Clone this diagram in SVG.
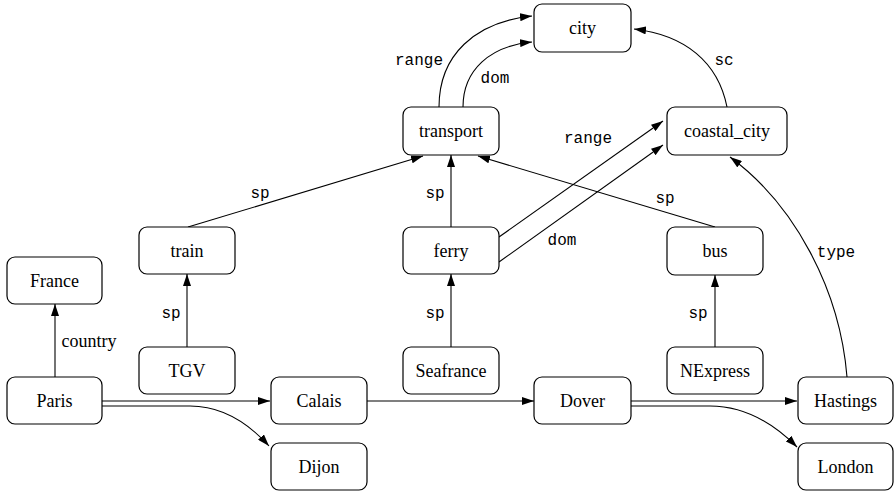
<svg xmlns="http://www.w3.org/2000/svg" width="895" height="492" viewBox="0 0 895 492">
<style>
.n rect{fill:#fff;stroke:#000;stroke-width:1.2}
.n text{font-family:"Liberation Serif",serif;font-size:18px;text-anchor:middle;fill:#000}
.e path{fill:none;stroke:#000;stroke-width:1.1}
.l{font-family:"Liberation Mono",monospace;font-size:16px;text-anchor:middle;fill:#000}
.s{font-family:"Liberation Serif",serif;font-size:18px;text-anchor:middle;fill:#000}
</style>
<defs>
<marker id="a" viewBox="0 0 12 8" refX="12" refY="4" markerWidth="12" markerHeight="8" markerUnits="userSpaceOnUse" orient="auto">
<path d="M0,0 L12,4 L0,8 z" fill="#000"/>
</marker>
</defs>
<g class="e" id="edges">
<path d="M55,377 V304" marker-end="url(#a)"/>
<path d="M102,401 H270" marker-end="url(#a)"/>
<path d="M102,406 H190 C225,406 250,425 269,446" marker-end="url(#a)"/>
<path d="M367,401 H534" marker-end="url(#a)"/>
<path d="M631,401 H797" marker-end="url(#a)"/>
<path d="M631,406 H710 C745,406 775,425 797,447" marker-end="url(#a)"/>
<path d="M187,347 V274" marker-end="url(#a)"/>
<path d="M188,227 L423,156" marker-end="url(#a)"/>
<path d="M451,227 V155" marker-end="url(#a)"/>
<path d="M715,227 L478,156" marker-end="url(#a)"/>
<path d="M451,347 V274" marker-end="url(#a)"/>
<path d="M715,347 V275" marker-end="url(#a)"/>
<path d="M499,237 L663,121" marker-end="url(#a)"/>
<path d="M499,262 L663,145" marker-end="url(#a)"/>
<path d="M439,107 C439,55 475,22 532,16" marker-end="url(#a)"/>
<path d="M463,107 C463,70 490,46 532,42" marker-end="url(#a)"/>
<path d="M727,107 C718,62 685,35 634,29" marker-end="url(#a)"/>
<path d="M847,377 C840,290 795,205 730,157" marker-end="url(#a)"/>
</g>
<g id="labels">
<text class="l" x="419" y="65">range</text>
<text class="l" x="495" y="83">dom</text>
<text class="l" x="588" y="143">range</text>
<text class="l" x="562" y="245">dom</text>
<text class="l" x="260" y="198">sp</text>
<text class="l" x="435" y="198">sp</text>
<text class="l" x="665" y="203">sp</text>
<text class="l" x="171" y="318">sp</text>
<text class="l" x="435" y="318">sp</text>
<text class="l" x="698" y="318">sp</text>
<text class="l" x="724" y="65">sc</text>
<text class="l" x="836" y="257">type</text>
<text class="s" x="89" y="347">country</text>
</g>
<g class="n" id="city"><rect x="534" y="4" width="97" height="48" rx="8"/><text x="582.5" y="34">city</text></g>
<g class="n" id="transport"><rect x="403" y="107" width="96" height="48" rx="8"/><text x="451" y="137">transport</text></g>
<g class="n" id="coastal_city"><rect x="667" y="107" width="120" height="48" rx="8"/><text x="727" y="137">coastal_city</text></g>
<g class="n" id="train"><rect x="139" y="227" width="96" height="47" rx="8"/><text x="187" y="257">train</text></g>
<g class="n" id="ferry"><rect x="403" y="227" width="96" height="47" rx="8"/><text x="451" y="257">ferry</text></g>
<g class="n" id="bus"><rect x="667" y="227" width="96" height="48" rx="8"/><text x="715" y="257">bus</text></g>
<g class="n" id="France"><rect x="7" y="257" width="95" height="47" rx="8"/><text x="54.5" y="287">France</text></g>
<g class="n" id="TGV"><rect x="139" y="347" width="96" height="47" rx="8"/><text x="187" y="377">TGV</text></g>
<g class="n" id="Seafrance"><rect x="403" y="347" width="96" height="47" rx="8"/><text x="451" y="377">Seafrance</text></g>
<g class="n" id="NExpress"><rect x="667" y="347" width="96" height="47" rx="8"/><text x="715" y="377">NExpress</text></g>
<g class="n" id="Paris"><rect x="7" y="377" width="95" height="47" rx="8"/><text x="54.5" y="407">Paris</text></g>
<g class="n" id="Calais"><rect x="271" y="377" width="96" height="47" rx="8"/><text x="319" y="407">Calais</text></g>
<g class="n" id="Dover"><rect x="534" y="377" width="97" height="47" rx="8"/><text x="582.5" y="407">Dover</text></g>
<g class="n" id="Hastings"><rect x="798" y="377" width="95" height="47" rx="8"/><text x="845.5" y="407">Hastings</text></g>
<g class="n" id="Dijon"><rect x="271" y="443" width="96" height="47" rx="8"/><text x="319" y="473">Dijon</text></g>
<g class="n" id="London"><rect x="798" y="443" width="95" height="47" rx="8"/><text x="845.5" y="473">London</text></g>
</svg>
